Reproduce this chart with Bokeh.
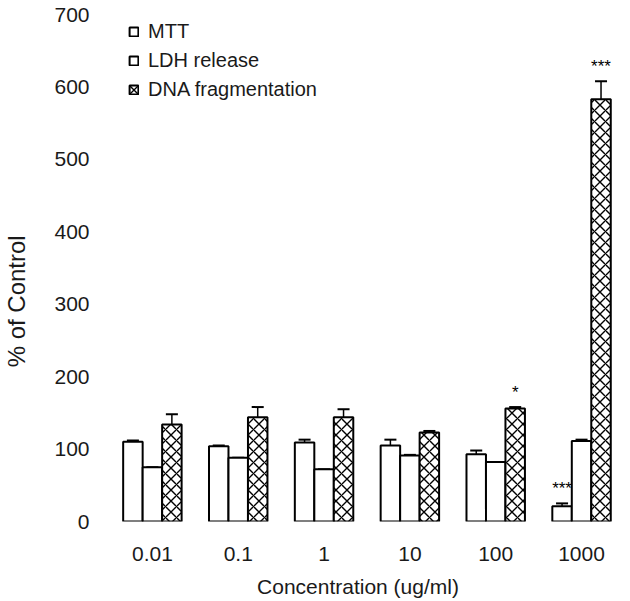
from bokeh.plotting import figure
from bokeh.models import Range1d, FixedTicker, ColumnDataSource, Legend, LegendItem
from bokeh.core.properties import value
from bokeh.embed import file_html
from bokeh.resources import INLINE

# ---- data ----
concentrations = ["0.01", "0.1", "1", "10", "100", "1000"]
mtt = [110, 104, 109, 105, 93, 21]
mtt_err = [2, 1, 4, 8, 5, 4]
ldh = [75, 88, 72, 91, 82, 111]
ldh_err = [0, 0, 0, 1, 0, 2]
dna = [134, 144, 144, 123, 156, 583]
dna_err = [14, 14, 11, 2, 2, 25]
# significance marks: (group index, series, label)
marks = [(4, "dna", "*"), (5, "mtt", "***"), (5, "dna", "***")]
y_ticks = [0, 100, 200, 300, 400, 500, 600, 700]
x_title = "Concentration (ug/ml)"
y_title = "% of Control"

FONT = "Liberation Sans"
TXT = "#1a1a1a"
group_x = list(range(1, len(concentrations) + 1))
W = 0.227
offsets = {"mtt": -W, "ldh": 0.0, "dna": W}
series = {"mtt": (mtt, mtt_err), "ldh": (ldh, ldh_err), "dna": (dna, dna_err)}

p = figure(width=614, height=600, output_backend="svg", toolbar_location=None,
           x_range=Range1d(0.407, 6.384), y_range=Range1d(0, 700),
           min_border_left=100, min_border_right=0, min_border_top=14, min_border_bottom=78)
p.outline_line_color = None
p.grid.visible = False
p.background_fill_color = "white"

renderers = {}
for key, (vals, errs) in series.items():
    xs = [g + offsets[key] for g in group_x]
    src = ColumnDataSource(dict(x=xs, top=vals, err_top=[v + e for v, e in zip(vals, errs)],
                                cl=[x - 0.07 for x in xs], cr=[x + 0.07 for x in xs]))
    # error bars (upward only)
    p.segment(x0="x", y0="top", x1="x", y1="err_top", source=src, line_color="black", line_width=1.5)
    p.segment(x0="cl", y0="err_top", x1="cr", y1="err_top", source=src, line_color="black", line_width=2)
    kw = {}
    if key == "dna":
        kw = dict(hatch_pattern="x", hatch_color="black", hatch_weight=1.4, hatch_scale=11)
    r = p.vbar(x="x", top="top", bottom=0, width=W, source=src, fill_color="white",
               line_color="black", line_width=2, **kw)
    renderers[key] = r

# significance stars
sx, sy, st = [], [], []
for gi, key, lab in marks:
    vals, errs = series[key]
    sx.append(group_x[gi] + offsets[key])
    sy.append(vals[gi] + errs[gi] + 7)
    st.append(lab)
p.text(x=sx, y=sy, text=st, text_align="center", text_baseline="bottom",
       text_font=value(FONT), text_font_size="17px", text_color="black")

# axes
p.xaxis.ticker = FixedTicker(ticks=group_x)
p.xaxis.major_label_overrides = {g: c for g, c in zip(group_x, concentrations)}
p.yaxis.ticker = FixedTicker(ticks=y_ticks)
for ax in (p.xaxis[0], p.yaxis[0]):
    ax.axis_line_color = None
    ax.major_tick_line_color = None
    ax.minor_tick_line_color = None
    ax.major_tick_out = 0
    ax.major_tick_in = 0
    ax.minor_tick_out = 0
    ax.major_label_text_font = FONT
    ax.major_label_text_font_size = "21px"
    ax.major_label_text_color = TXT
    ax.axis_label_text_font = FONT
    ax.axis_label_text_font_style = "normal"
    ax.axis_label_text_color = TXT
p.xaxis.major_label_standoff = 25
p.xaxis.axis_label = x_title
p.xaxis.axis_label_text_font_size = "21px"
p.xaxis.axis_label_standoff = 11
p.yaxis.major_label_standoff = 12
# y title sits lower than the frame's middle in the original: pad its end with no-break spaces
p.yaxis.axis_label = y_title + "\u00a0" * 10
p.yaxis.axis_label_text_font_size = "24px"
p.yaxis.axis_label_standoff = 21

legend = Legend(items=[LegendItem(label="MTT", renderers=[renderers["mtt"]]),
                       LegendItem(label="LDH release", renderers=[renderers["ldh"]]),
                       LegendItem(label="DNA fragmentation", renderers=[renderers["dna"]])],
                location=(27, 420), glyph_width=11, glyph_height=11, label_height=22,
                spacing=6, padding=0, margin=0, border_line_color=None,
                background_fill_alpha=0, label_text_font=FONT, label_text_font_size="20px",
                label_text_color=TXT, label_standoff=9)
p.add_layout(legend, "center")

open("out.html", "w").write(file_html(p, INLINE))
